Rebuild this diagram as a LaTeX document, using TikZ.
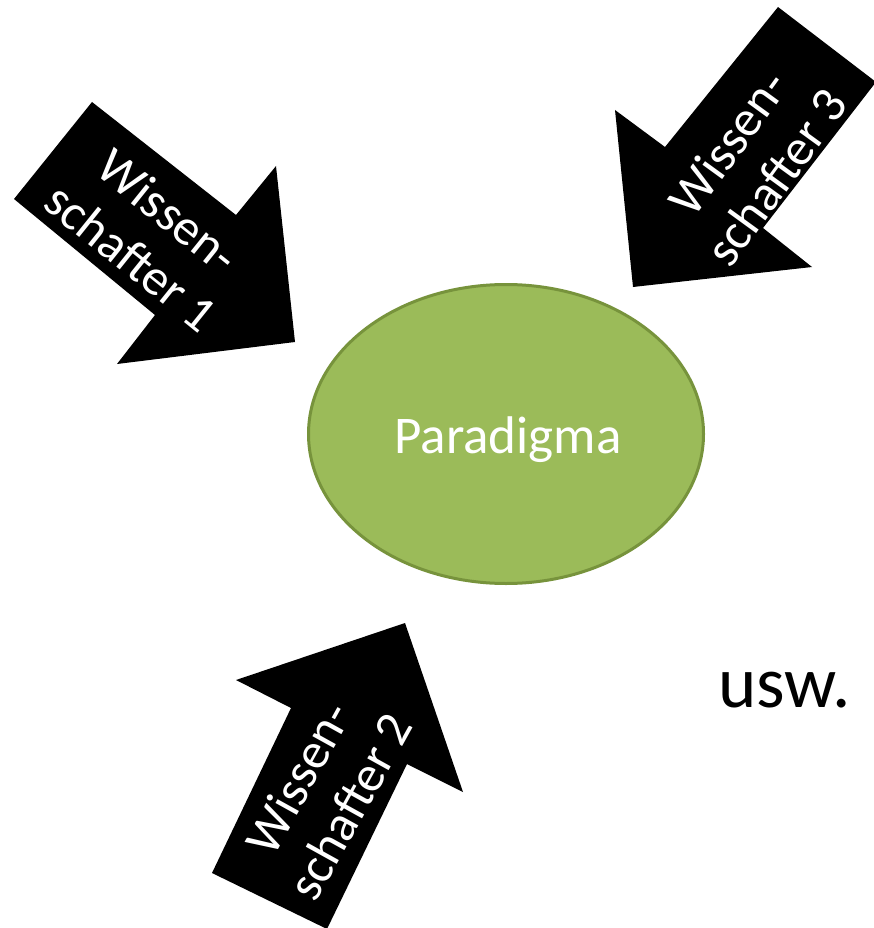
\documentclass[tikz,border=0pt]{standalone}
\usepackage{fontspec}
\setmainfont{Carlito}
\usetikzlibrary{shapes.geometric}
\definecolor{paraFill}{HTML}{9BBB59}
\definecolor{paraLine}{HTML}{77933C}

\begin{document}
\begin{tikzpicture}[x=1pt,y=-1pt,
  blockarrow/.style={fill=black},
  arrowtext/.style={text=white, font=\fontsize{51}{59}\selectfont, align=center, inner sep=0pt}]
\useasboundingbox (0,0) rectangle (874,928);

% block arrows pointing at the paradigm
\fill[blockarrow] (14,199) -- (92,102) -- (236,215) -- (276,166) -- (295,342) -- (117,364) -- (155,315) -- cycle;
\fill[blockarrow] (778,7) -- (876,82) -- (763,228) -- (812,267) -- (633,287) -- (615,110) -- (665,147) -- cycle;
\fill[blockarrow] (405,623) -- (463,792) -- (407,764) -- (327,929) -- (212,873) -- (291,708) -- (236,680) -- cycle;

\node[arrowtext, rotate=-38.8] (w1) at (150,234) {Wissen-\\schafter 1};
\node[arrowtext, rotate=54] (w3) at (752,160) {Wissen-\\schafter 3};
\node[arrowtext, rotate=61] (w2) at (324,792) {Wissen-\\schafter 2};

% central ellipse
\node[ellipse, fill=paraFill, draw=paraLine, line width=3pt,
      minimum width=395pt, minimum height=299pt, inner sep=0pt] (para) at (506,434) {};
\node[text=white, font=\fontsize{53}{63}\selectfont, inner sep=0pt, anchor=base] (paratext) at (508,453) {Paradigma};

\node[font=\fontsize{73}{86}\selectfont, inner sep=0pt, anchor=base west] (usw) at (718,707) {usw.};
\end{tikzpicture}
\end{document}
